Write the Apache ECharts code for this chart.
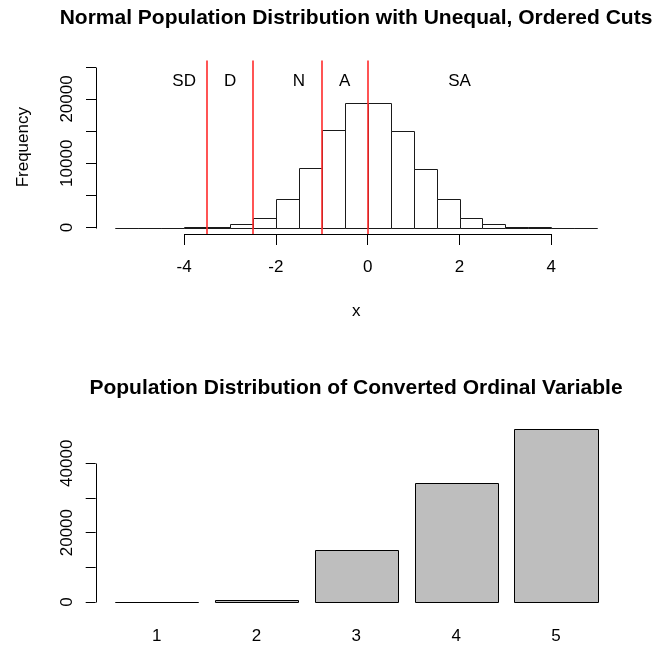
<!DOCTYPE html>
<html>
<head>
<meta charset="utf-8">
<script src="https://cdn.jsdelivr.net/npm/echarts@6/dist/echarts.min.js"></script>
<style>
html,body{margin:0;padding:0;background:#fff;}
#chart{width:668px;height:645px;}
</style>
</head>
<body>
<div id="chart"></div>
<script>
// ---------- data ----------
const histBreaks = [-5.5,-5,-4.5,-4,-3.5,-3,-2.5,-2,-1.5,-1,-0.5,0,0.5,1,1.5,2,2.5,3,3.5,4,4.5,5];
const histCounts = [0,0,0,20,150,570,1560,4460,9280,15230,19380,19380,15070,9080,4460,1560,570,100,20,0,0];
const cutPoints = [-3.5, -2.5, -1, 0];
const zoneLabels = ['SD', 'D', 'N', 'A', 'SA'];
const zoneLabelX = [-4, -3, -1.5, -0.5, 2];
const zoneLabelY = 22800;
const histXTicks = [-4, -2, 0, 2, 4];
const histYTicks = [0, 5000, 10000, 15000, 20000, 25000];
const histYLabels = [0, 10000, 20000];
const histYLim = [0, 25000];

const ordinalCategories = ['1', '2', '3', '4', '5'];
const ordinalCounts = [20, 640, 15100, 34200, 49800];
const ordYTicks = [0, 10000, 20000, 30000, 40000];
const ordYLabels = [0, 20000, 40000];

const titleTop = 'Normal Population Distribution with Unequal, Ordered Cuts';
const titleBottom = 'Population Distribution of Converted Ordinal Variable';

// ---------- layout helpers (R-like 4% axis extension) ----------
const FONT = '"Liberation Sans", Arial, sans-serif';
function ext(lo, hi) { const d = (hi - lo) * 0.04; return [lo - d, hi + d]; }
const hx = ext(histBreaks[0], histBreaks[histBreaks.length - 1]);
const hy = ext(histYLim[0], histYLim[1]);
const barSpace = 0.2, barWidth = 1;
const barLeft = ordinalCategories.map((c, i) => barSpace + i * (barSpace + barWidth));
const barCenters = barLeft.map(v => v + barWidth / 2);
const ox = ext(barLeft[0], barLeft[barLeft.length - 1] + barWidth);
const oy = ext(0, Math.max(...ordinalCounts));

const histData = histCounts.map((c, i) => [histBreaks[i], histBreaks[i + 1], c]);
const ordData = ordinalCounts.map((c, i) => [barLeft[i], barLeft[i] + barWidth, c]);

function crisp(v) { return Math.round(v) + 0.5; }

const chart = echarts.init(document.getElementById('chart'), null, { renderer: 'canvas' });

const axisText = { color: '#000', fontSize: 17, fontFamily: FONT };
const plain = v => String(v);

chart.setOption({
  animation: false,
  backgroundColor: '#fff',
  title: [
    { text: titleTop, left: 356, top: 8, textAlign: 'center', padding: 0,
      textStyle: { fontSize: 21, fontWeight: 'bold', color: '#000', fontFamily: FONT } },
    { text: titleBottom, left: 356, top: 378, textAlign: 'center', padding: 0,
      textStyle: { fontSize: 21, fontWeight: 'bold', color: '#000', fontFamily: FONT } }
  ],
  grid: [
    { left: 96, right: 51.5, top: 60.4, bottom: 411, containLabel: false },
    { left: 95.7, right: 51, top: 422.4, bottom: 36.1, containLabel: false }
  ],
  xAxis: [
    { type: 'value', gridIndex: 0, min: hx[0], max: hx[1],
      splitLine: { show: false }, axisLine: { show: false, onZero: false },
      axisTick: { show: true, length: 11, customValues: histXTicks, lineStyle: { color: '#000' } },
      axisLabel: Object.assign({ customValues: histXTicks, margin: 25, formatter: plain }, axisText),
      name: 'x', nameLocation: 'middle', nameGap: 69,
      nameTextStyle: Object.assign({ verticalAlign: 'top' }, axisText) },
    { type: 'value', gridIndex: 1, min: ox[0], max: ox[1],
      splitLine: { show: false }, axisLine: { show: false, onZero: false },
      axisTick: { show: false, customValues: barCenters },
      axisLabel: Object.assign({ customValues: barCenters, margin: 19,
        formatter: v => ordinalCategories[barCenters.findIndex(c => Math.abs(c - v) < 1e-6)] || '' }, axisText) }
  ],
  yAxis: [
    { type: 'value', gridIndex: 0, min: hy[0], max: hy[1],
      splitLine: { show: false }, axisLine: { show: false, onZero: false },
      axisTick: { show: true, length: 10, customValues: histYTicks, lineStyle: { color: '#000' } },
      axisLabel: Object.assign({ customValues: histYLabels, rotate: 90, margin: 20, formatter: plain }, axisText),
      name: 'Frequency', nameLocation: 'middle', nameGap: 64, nameRotate: 90,
      nameTextStyle: axisText },
    { type: 'value', gridIndex: 1, min: oy[0], max: oy[1],
      splitLine: { show: false }, axisLine: { show: false, onZero: false },
      axisTick: { show: true, length: 10, customValues: ordYTicks, lineStyle: { color: '#000' } },
      axisLabel: Object.assign({ customValues: ordYLabels, rotate: 90, margin: 20, formatter: plain }, axisText) }
  ],
  series: [
    // histogram bars
    { type: 'custom', xAxisIndex: 0, yAxisIndex: 0, data: histData,
      encode: { x: [0, 1], y: 2 }, z: 2,
      renderItem: function (params, api) {
        const p0 = api.coord([api.value(0), 0]);
        const p1 = api.coord([api.value(1), api.value(2)]);
        const x0 = crisp(p0[0]), x1 = crisp(p1[0]), yb = crisp(p0[1]), yt = crisp(p1[1]);
        return { type: 'rect', shape: { x: x0, y: yt, width: x1 - x0, height: yb - yt },
          style: { fill: '#fff', stroke: '#1a1a1a', lineWidth: 1 } };
      } },
    // cut lines (abline v=)
    { type: 'custom', xAxisIndex: 0, yAxisIndex: 0, z: 5, silent: true,
      data: cutPoints.map(v => [v]), encode: { x: 0 },
      renderItem: function (params, api) {
        const cs = params.coordSys;
        const x = Math.round(api.coord([api.value(0), 0])[0]);
        return { type: 'line', shape: { x1: x, y1: cs.y, x2: x, y2: cs.y + cs.height },
          style: { stroke: '#ff2a2a', lineWidth: 1.6, fill: null } };
      } },
    // zone labels
    { type: 'custom', xAxisIndex: 0, yAxisIndex: 0, z: 6,
      data: zoneLabels.map((t, i) => [zoneLabelX[i], zoneLabelY, t]),
      encode: { x: 0, y: 1 },
      renderItem: function (params, api) {
        const p = api.coord([api.value(0), api.value(1)]);
        return { type: 'text', style: { text: zoneLabels[params.dataIndex], x: p[0], y: p[1],
          align: 'center', verticalAlign: 'middle', fill: '#000', font: '17px ' + FONT } };
      } },
    // R-style axis lines (top)
    { type: 'custom', xAxisIndex: 0, yAxisIndex: 0, data: [[0]], silent: true, z: 6,
      renderItem: function (params, api) {
        const cs = params.coordSys;
        const xl = crisp(cs.x);
        const ya = crisp(api.coord([0, histYTicks[0]])[1]);
        const yb2 = crisp(api.coord([0, histYTicks[histYTicks.length - 1]])[1]);
        const xa = crisp(api.coord([histXTicks[0], 0])[0]);
        const xb = crisp(api.coord([histXTicks[histXTicks.length - 1], 0])[0]);
        const yBottom = crisp(cs.y + cs.height);
        return { type: 'group', children: [
          { type: 'line', shape: { x1: xl, y1: ya, x2: xl, y2: yb2 }, style: { stroke: '#000', lineWidth: 1 } },
          { type: 'line', shape: { x1: xa, y1: yBottom, x2: xb, y2: yBottom }, style: { stroke: '#000', lineWidth: 1 } }
        ] };
      } },
    // ordinal bars
    { type: 'custom', xAxisIndex: 1, yAxisIndex: 1, data: ordData,
      encode: { x: [0, 1], y: 2 },
      renderItem: function (params, api) {
        const p0 = api.coord([api.value(0), 0]);
        const p1 = api.coord([api.value(1), api.value(2)]);
        const x0 = crisp(p0[0]), x1 = crisp(p1[0]), yb = crisp(p0[1]), yt = crisp(p1[1]);
        return { type: 'rect', shape: { x: x0, y: yt, width: x1 - x0, height: yb - yt },
          style: { fill: '#bebebe', stroke: '#000', lineWidth: 1 } };
      } },
    // R-style axis line (bottom y)
    { type: 'custom', xAxisIndex: 1, yAxisIndex: 1, data: [[0]], silent: true,
      renderItem: function (params, api) {
        const cs = params.coordSys;
        const xl = crisp(cs.x);
        const ya = crisp(api.coord([0, ordYTicks[0]])[1]);
        const yb2 = crisp(api.coord([0, ordYTicks[ordYTicks.length - 1]])[1]);
        return { type: 'line', shape: { x1: xl, y1: ya, x2: xl, y2: yb2 }, style: { stroke: '#000', lineWidth: 1 } };
      } }
  ]
});
</script>
</body>
</html>
